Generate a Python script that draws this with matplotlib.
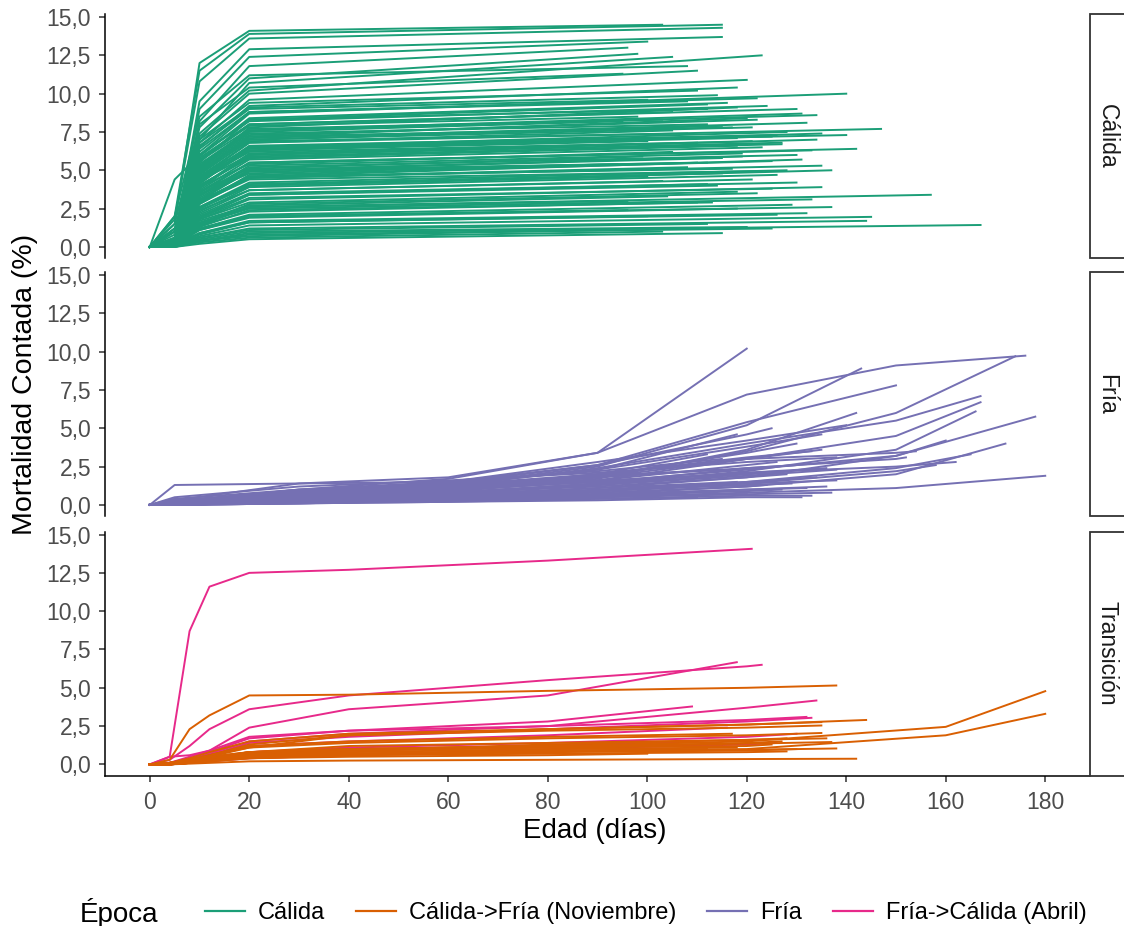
import matplotlib
matplotlib.use("Agg")
import matplotlib.pyplot as plt
import matplotlib.patches as patches
from matplotlib.lines import Line2D

plt.rcParams['font.family'] = ['Liberation Sans', 'DejaVu Sans']

# ---------------- data ----------------
# Cálida: value at day 5, 10, 20, then last day and last value of each lote
cal_d5 = [1.5, 2.0, 1.8, 0.6, 0.5, 0.4, 0.6, 0.3, 0.5, 1.5, 0.3, 0.5, 0.4, 0.3, 1.2, 0.4, 0.5, 0.3, 0.2, 0.4,
          1.0, 0.3, 0.4, 0.2, 0.5, 0.3, 0.4, 0.2, 1.0, 0.3, 0.4, 0.2, 1.2, 0.3, 0.4, 0.2, 0.3, 0.4, 1.0, 0.2,
          0.3, 0.2, 0.1, 0.1, 0.3, 0.2, 0.3, 0.1, 0.2, 0.1, 0.2, 0.1, 0.1, 0.0, 0.0, 0.1, 0.0, 0.0, 0.2, 0.1,
          0.4, 0.3, 0.2, 0.5, 0.3, 0.4, 0.2, 0.3, 0.5, 0.2, 0.3, 0.4, 0.2, 0.3, 0.1, 0.3, 0.5, 0.4, 0.2, 0.4,
          4.4, 2.0, 1.2, 0.8, 0.1, 0.3, 0.4, 0.2, 0.5, 0.3, 0.2, 0.4, 0.3, 0.2, 0.5, 0.3, 0.4, 0.2, 0.3, 0.2,
          0.3, 0.1, 0.1, 0.4, 0.3, 0.2, 0.3, 0.1, 0.5, 0.3]
cal_d10 = [12.0, 11.5, 10.8, 9.5, 9.0, 8.2, 7.8, 7.0, 7.4, 8.0, 7.2, 6.8, 6.5, 6.0, 7.0, 6.2, 6.6, 5.5, 5.0, 5.4,
           5.8, 4.8, 5.2, 4.5, 5.0, 4.2, 4.6, 3.8, 4.4, 3.5, 4.0, 3.3, 3.9, 3.2, 3.4, 2.8, 2.6, 2.9, 3.0, 2.2,
           2.5, 2.0, 1.8, 1.4, 1.8, 1.5, 1.7, 1.2, 1.4, 0.9, 1.1, 0.7, 0.6, 0.4, 0.3, 0.4, 0.4, 0.2, 0.9, 1.2,
           5.2, 4.6, 4.2, 4.5, 4.3, 4.9, 4.1, 3.7, 3.6, 2.8, 2.6, 2.4, 1.9, 1.6, 1.1, 5.6, 6.4, 5.7, 3.6, 3.4,
           6.0, 8.5, 4.0, 3.0, 0.5, 5.0, 4.4, 3.9, 5.6, 4.0, 3.4, 2.9, 2.3, 1.9, 6.0, 5.9, 5.3, 4.7, 3.1, 2.5,
           1.5, 0.8, 0.6, 6.8, 4.8, 3.0, 2.1, 1.3, 4.3, 5.1]
cal_d20 = [14.1, 13.9, 13.6, 12.9, 12.4, 11.8, 11.0, 10.7, 10.2, 10.4, 10.0, 9.6, 9.2, 8.7, 9.4, 8.8, 9.0, 8.3, 7.8, 7.6,
           8.0, 7.2, 7.5, 6.8, 7.0, 6.3, 6.5, 6.0, 6.2, 5.5, 5.8, 5.2, 5.4, 5.0, 4.8, 4.7, 4.2, 4.4, 4.5, 3.7,
           4.0, 3.4, 3.1, 2.6, 2.9, 2.5, 2.7, 2.1, 2.3, 1.7, 1.9, 1.4, 1.2, 0.9, 0.6, 0.7, 0.8, 0.5, 1.6, 2.0,
           7.4, 6.8, 6.5, 6.3, 6.4, 7.1, 6.5, 5.7, 5.1, 4.5, 4.1, 3.7, 3.2, 2.6, 2.0, 8.0, 8.8, 7.9, 5.5, 5.0,
           8.3, 11.2, 5.8, 4.6, 1.0, 7.2, 6.6, 6.1, 7.7, 5.9, 5.3, 4.6, 3.9, 3.4, 8.2, 8.4, 7.6, 7.0, 4.9, 4.0,
           2.8, 1.6, 1.1, 9.1, 6.9, 5.0, 3.5, 2.4, 6.0, 7.3]
cal_end = [103, 115, 115, 115, 100, 96, 98, 105, 123, 95, 110, 120, 118, 140, 110, 122, 100, 112, 118, 131,
           105, 120, 95, 147, 115, 135, 125, 134, 110, 142, 118, 130, 105, 115, 94, 125, 128, 123, 108, 121,
           100, 112, 135, 157, 118, 133, 104, 129, 110, 132, 118, 145, 144, 167, 103, 94, 125, 115, 100, 96,
           112, 105, 128, 100, 118, 132, 140, 123, 99, 135, 115, 103, 125, 96, 137, 130, 108, 98, 133, 112,
           112, 108, 120, 117, 120, 117, 126, 121, 103, 127, 119, 131, 126, 114, 124, 116, 134, 121, 110, 137,
           122, 126, 112, 114, 108, 119, 130, 113, 127, 122]
cal_final = [14.5, 14.5, 14.3, 13.7, 13.4, 13.0, 12.6, 12.4, 12.5, 11.3, 11.5, 10.9, 10.4, 10.0, 10.2, 9.7, 9.6, 9.3, 9.1, 8.7,
             8.8, 8.4, 8.2, 7.7, 7.9, 7.4, 7.2, 7.0, 6.8, 6.4, 6.6, 6.0, 6.2, 5.8, 5.4, 5.6, 5.0, 4.95, 5.2, 4.4,
             4.6, 4.1, 3.9, 3.4, 3.6, 3.1, 3.3, 2.75, 2.9, 2.2, 2.5, 1.96, 1.7, 1.43, 1.0, 1.1, 1.2, 0.9, 2.0, 2.4,
             8.0, 7.6, 7.5, 6.9, 7.1, 8.1, 7.3, 6.5, 5.9, 5.3, 4.8, 4.3, 3.8, 3.0, 2.6, 9.0, 9.5, 8.5, 6.3, 5.5,
             9.0, 11.8, 6.7, 5.1, 1.3, 7.8, 7.3, 6.9, 8.3, 6.7, 6.1, 5.7, 4.7, 4.0, 9.2, 9.4, 8.6, 7.8, 5.5, 5.0,
             3.5, 2.1, 1.5, 9.9, 7.4, 5.9, 4.2, 2.9, 6.8, 8.3]

# Fría: value at day 5, 30, 60, 90, 120, 150 (None after the lote ends), last day, last value
N = None
fria_d5 = [0.3, 0.2, 0.1, 0.2, 0.2, 0.1, 0.1, 0.1, 0.1, 0.0, 0.1, 0.0, 0.2, 0.2, 0.3, 0.1, 0.2, 0.1, 1.3, 0.5,
           0.2, 0.1, 0.1, 0.1, 0.0, 0.1, 0.0, 0.0, 0.0, 0.1, 0.2, 0.0, 0.1, 0.0, 0.1, 0.3, 0.2, 0.1, 0.0, 0.2,
           0.1, 0.4, 0.0, 0.1, 0.1, 0.0, 0.0, 0.1, 0.0, 0.1]
fria_d30 = [1.4, 1.0, 0.5, 0.8, 0.7, 0.6, 0.4, 0.3, 0.3, 0.2, 0.6, 0.4, 1.0, 0.8, 0.9, 0.5, 0.6, 0.4, 1.4, 1.2,
            0.9, 0.6, 0.5, 0.3, 0.3, 0.4, 0.2, 0.1, 0.2, 0.5, 0.7, 0.3, 0.4, 0.1, 0.2, 0.8, 0.6, 0.3, 0.2, 0.9,
            0.4, 1.0, 0.2, 0.5, 0.4, 0.1, 0.2, 0.3, 0.1, 0.4]
fria_d60 = [1.8, 1.7, 1.0, 1.4, 1.3, 1.2, 0.9, 0.7, 0.6, 0.3, 1.1, 0.8, 1.5, 1.3, 1.5, 1.0, 1.1, 0.9, 1.5, 1.6,
            1.3, 1.0, 0.8, 0.6, 0.5, 0.7, 0.4, 0.3, 0.3, 0.9, 1.2, 0.6, 0.6, 0.2, 0.4, 1.3, 1.0, 0.5, 0.4, 1.4,
            0.8, 1.2, 0.5, 0.9, 0.8, 0.2, 0.4, 0.5, 0.3, 0.8]
fria_d90 = [3.4, 3.4, 1.8, 2.6, 2.5, 2.4, 1.8, 1.3, 1.1, 0.5, 2.0, 1.4, 2.6, 2.3, 2.8, 1.9, 2.0, 1.6, 2.2, 2.1,
            1.8, 1.5, 1.2, 1.0, 0.8, 1.1, 0.7, 0.5, 0.4, 1.6, 1.9, 0.9, 0.9, 0.4, 0.6, 2.0, 1.5, 0.9, 0.7, 2.3,
            1.3, 1.6, 0.9, 1.7, 1.4, 0.3, 0.6, 0.7, 0.6, 1.3]
fria_d120 = [N, 7.2, 3.5, 5.4, 5.2, 4.0, 3.0, 2.2, 1.8, 0.8, 3.0, 2.1, 4.6, N, 4.2, 3.4, N, 3.0, N, 2.8,
             2.4, 2.1, 1.8, 1.5, 1.2, N, 1.0, 0.7, N, 2.6, N, 1.4, 1.3, 0.6, N, 3.1, 2.3, 1.5, 1.2, 3.8,
             2.0, 2.0, 1.4, 3.6, 2.4, 0.5, 0.9, N, 1.0, 1.9]
fria_d150 = [N, 9.1, 6.0, N, N, 5.5, 4.5, 3.6, 3.2, 1.1, 3.4, 2.5, N, N, N, N, N, N, N, N,
             N, N, N, N, N, N, N, N, N, N, N, N, N, N, N, N, 3.2, 2.4, 2.0, N,
             N, N, 2.2, N, 3.0, N, N, N, N, N]
fria_end = [120, 176, 174, 150, 143, 167, 167, 166, 178, 180, 154, 162, 125, 118, 140, 130, 112, 135, 115, 138,
            130, 136, 128, 134, 124, 118, 132, 137, 110, 126, 115, 138, 129, 133, 120, 133, 160, 165, 172, 135,
            126, 122, 158, 142, 152, 131, 127, 105, 136, 138]
fria_final = [10.2, 9.74, 9.7, 7.8, 8.9, 7.1, 6.7, 6.1, 5.76, 1.9, 3.5, 2.8, 5.0, 4.6, 5.2, 4.0, 3.3, 3.6, 3.0, 3.1,
              2.6, 2.4, 2.0, 1.8, 1.3, 1.5, 1.1, 0.8, 0.5, 2.8, 2.3, 1.6, 1.4, 0.6, 0.7, 3.5, 4.2, 3.3, 4.0, 4.6,
              2.1, 2.1, 2.6, 6.0, 3.1, 0.5, 1.0, 0.8, 1.2, 2.3]

# Transición: value at day 4, 8, 12, 20, 40, 80, 120, 160, last day, last value
trans_epoca = ['Fría->Cálida (Abril)'] * 11 + ['Cálida->Fría (Noviembre)'] * 21
trans_d4 = [0.5, 0.3, 0.1, 0.1, 0.0, 0.1, 0.0, 0.0, 0.1, 0.0, 0.5,
            0.3, 0.1, 0.0, 0.1, 0.0, 0.0, 0.0, 0.0, 0.1, 0.0, 0.0, 0.0, 0.1, 0.0, 0.0, 0.0, 0.0, 0.1, 0.0, 0.0, 0.0]
trans_d8 = [8.7, 1.2, 0.5, 0.4, 0.3, 0.3, 0.2, 0.1, 0.3, 0.2, 0.6,
            2.3, 0.3, 0.2, 0.4, 0.3, 0.2, 0.05, 0.1, 0.3, 0.2, 0.2, 0.1, 0.3, 0.1, 0.2, 0.1, 0.2, 0.3, 0.1, 0.2, 0.1]
trans_d12 = [11.6, 2.3, 0.9, 0.8, 0.7, 0.6, 0.4, 0.2, 0.6, 0.3, 0.9,
             3.2, 0.5, 0.4, 0.8, 0.6, 0.4, 0.1, 0.3, 0.6, 0.5, 0.4, 0.3, 0.5, 0.2, 0.4, 0.2, 0.3, 0.6, 0.3, 0.3, 0.2]
trans_d20 = [12.5, 3.6, 2.4, 1.7, 1.5, 1.4, 0.8, 0.4, 1.2, 0.7, 1.8,
             4.5, 0.8, 0.6, 1.5, 1.1, 0.8, 0.2, 0.5, 1.3, 1.1, 0.7, 0.6, 0.8, 0.4, 0.8, 0.5, 0.5, 1.2, 0.6, 0.6, 0.4]
trans_d40 = [12.7, 4.5, 3.6, 2.2, 2.0, 1.8, 1.1, 0.6, 1.5, 0.9, 2.2,
             4.55, 1.0, 0.7, 2.0, 1.4, 1.0, 0.25, 0.7, 1.9, 1.9, 0.9, 0.8, 1.0, 0.6, 1.2, 0.7, 0.6, 1.5, 0.9, 0.9, 0.5]
trans_d80 = [13.3, 5.5, 4.5, 2.8, 2.5, 2.3, 1.4, 1.0, 1.9, 1.2, 2.5,
             4.8, 1.2, 0.9, 2.3, 1.7, 1.2, 0.3, 0.85, 2.2, 2.3, 1.1, 1.0, 1.2, 0.8, 1.4, 0.9, 0.7, 1.8, 1.3, 1.1, 0.6]
trans_d120 = [N, 6.4, N, N, 3.7, 2.8, 1.8, 1.3, N, N, 2.9,
              5.0, 1.5, 1.0, 2.6, 1.9, 1.35, 0.35, 0.95, 2.4, 2.6, 1.2, N, N, 0.9, 1.6, N, 0.8, N, 1.6, 1.4, N]
trans_d160 = [N] * 11 + [N, 2.45, 1.9] + [N] * 18
trans_end = [121, 123, 118, 109, 134, 133, 130, 126, 116, 110, 132,
             138, 180, 180, 144, 135, 137, 142, 138, 135, 135, 125, 118, 115, 130, 128, 112, 128, 117, 136, 127, 100]
trans_final = [14.07, 6.5, 6.67, 3.78, 4.17, 3.04, 2.0, 1.4, 2.4, 1.5, 3.1,
               5.15, 4.78, 3.3, 2.9, 2.05, 1.46, 0.37, 1.04, 2.54, 2.76, 1.3, 1.1, 1.3, 1.0, 1.7, 1.0, 0.85, 2.0, 1.7, 1.5, 0.7]

epocas = ['Cálida', 'Cálida->Fría (Noviembre)', 'Fría', 'Fría->Cálida (Abril)']
colores = ['#1B9E77', '#D95F02', '#7570B3', '#E7298A']
paneles = ['Cálida', 'Fría', 'Transición']
x_ticks = [0, 20, 40, 60, 80, 100, 120, 140, 160, 180]
y_ticks = [0, 2.5, 5, 7.5, 10, 12.5, 15]


def curve(days, columns, i, end, final):
    xs, ys = [0], [0]
    for d, col in zip(days, columns):
        v = col[i]
        if v is not None and d < end[i]:
            xs.append(d)
            ys.append(v)
    xs.append(end[i])
    ys.append(final[i])
    return xs, ys


color_of = dict(zip(epocas, colores))

fig = plt.figure(figsize=(11.24, 9.26), dpi=100)
W, H = 1124, 926
left = 105 / W
width = (1090 - 105) / W
tops = [14, 272, 531.5]
ph = 244

axes = []
for k, top in enumerate(tops):
    ax = fig.add_axes([left, 1 - (top + ph) / H, width, ph / H])
    axes.append(ax)

lw = 1.4
ax = axes[0]
cal_cols = [cal_d5, cal_d10, cal_d20]
for i in range(len(cal_end)):
    xs, ys = curve([5, 10, 20], cal_cols, i, cal_end, cal_final)
    ax.plot(xs, ys, color=color_of['Cálida'], lw=lw)

ax = axes[1]
fria_cols = [fria_d5, fria_d30, fria_d60, fria_d90, fria_d120, fria_d150]
for i in range(len(fria_end)):
    xs, ys = curve([5, 30, 60, 90, 120, 150], fria_cols, i, fria_end, fria_final)
    ax.plot(xs, ys, color=color_of['Fría'], lw=lw)

ax = axes[2]
trans_cols = [trans_d4, trans_d8, trans_d12, trans_d20, trans_d40, trans_d80, trans_d120, trans_d160]
for i in range(len(trans_end)):
    xs, ys = curve([4, 8, 12, 20, 40, 80, 120, 160], trans_cols, i, trans_end, trans_final)
    ax.plot(xs, ys, color=color_of[trans_epoca[i]], lw=lw)

for k, ax in enumerate(axes):
    ax.set_xlim(-9, 189)
    ax.set_ylim(-0.724, 15.2)
    for s in ['top', 'right']:
        ax.spines[s].set_visible(False)
    ax.spines['left'].set_linewidth(1.1)
    ax.spines['left'].set_color('black')
    ax.set_yticks(y_ticks)
    ax.set_yticklabels([f"{v:.1f}".replace('.', ',') for v in y_ticks])
    ax.tick_params(axis='y', length=4, width=1.1, color='#333333', labelsize=16.5,
                   labelcolor='#4D4D4D', pad=6)
    ax.set_xticks(x_ticks)
    if k < 2:
        ax.spines['bottom'].set_visible(False)
        ax.tick_params(axis='x', bottom=False, labelbottom=False)
    else:
        ax.spines['bottom'].set_linewidth(1.1)
        ax.spines['bottom'].set_color('black')
        ax.tick_params(axis='x', length=4, width=1.1, color='#333333', labelsize=16.5,
                       labelcolor='#4D4D4D', pad=7)

    # strip on the right
    top = tops[k]
    rect = patches.Rectangle((1090 / W, 1 - (top + ph) / H), 40 / W, ph / H,
                             transform=fig.transFigure, facecolor='white',
                             edgecolor='#333333', lw=1.3, clip_on=False)
    fig.patches.append(rect)
    fig.text(1107 / W, 1 - (top + ph / 2) / H, paneles[k], rotation=-90,
             ha='center', va='center', fontsize=16.5, color='#1A1A1A')

fig.text(25 / W, 1 - 384 / H, 'Mortalidad Contada (%)', rotation=90,
         ha='center', va='center', fontsize=20.5, color='black')
fig.text(595 / W, 1 - 831 / H, 'Edad (días)', ha='center', va='center',
         fontsize=20, color='black')

fig.text(80 / W, 1 - 913 / H, 'Época', ha='left', va='center', fontsize=20, color='black')
handles = [Line2D([], [], color=c, lw=1.6) for c in colores]
fig.legend(handles, epocas, loc='center left', bbox_to_anchor=(205 / W, 1 - 913 / H),
           ncol=4, frameon=False, fontsize=17, handlelength=1.7, handletextpad=0.55,
           columnspacing=1.3, borderpad=0, borderaxespad=0)

fig.savefig('out.png', dpi=100)
